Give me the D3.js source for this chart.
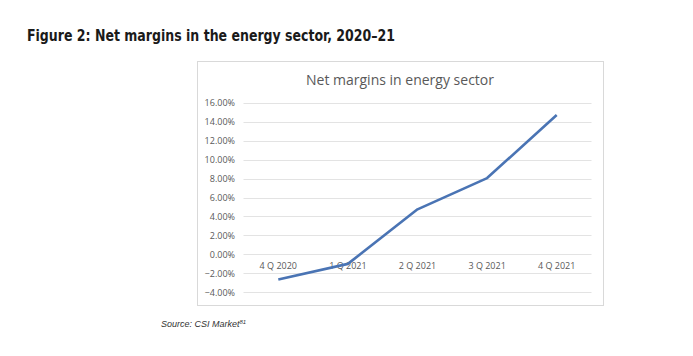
<!DOCTYPE html>
<html><head><meta charset="utf-8">
<script src="https://cdn.jsdelivr.net/npm/d3@7"></script>
<style>body{margin:0;background:#fff}</style>
</head><body>
<svg id="c" width="693" height="356"></svg>
<script>
const categories = ["4 Q 2020","1 Q 2021","2 Q 2021","3 Q 2021","4 Q 2021"];
const netMargin = [-2.65, -1.0, 4.75, 8.05, 14.7];
const yTicks = [-4,-2,0,2,4,6,8,10,12,14,16];
const figTitle = "Figure 2: Net margins in the energy sector, 2020\u201321";
const chartTitle = "Net margins in energy sector";

const svg = d3.select("#c");
svg.append("text").attr("x",27).attr("y",41)
  .attr("font-family","DejaVu Sans Condensed, DejaVu Sans").attr("font-weight","bold")
  .attr("font-size",15).attr("fill","#1a1a1a").attr("textLength",368).attr("lengthAdjust","spacingAndGlyphs")
  .text(figTitle);

svg.append("rect").attr("x",197.5).attr("y",61.5).attr("width",406).attr("height",244)
  .attr("fill","#fff").attr("stroke","#d9d9d9").attr("stroke-width",1);

svg.append("text").attr("x",400).attr("y",85).attr("text-anchor","middle")
  .attr("font-family","Open Sans, Noto Sans, sans-serif").attr("font-size",14).attr("fill","#595959")
  .text(chartTitle);

const x = d3.scaleBand().domain(categories).range([243.5,591.5]);
const y = d3.scaleLinear().domain([-4,16]).range([292.3,102.7]);

const g = svg.append("g");
g.selectAll("line.grid").data(yTicks).join("line")
  .attr("x1",243.5).attr("x2",591.5).attr("y1",d=>Math.round(y(d))+0.5).attr("y2",d=>Math.round(y(d))+0.5)
  .attr("stroke","#e3e3e3").attr("stroke-width",1);

const yAxis = d3.axisLeft(y).tickValues(yTicks).tickSize(0).tickPadding(0).tickFormat(d=>d3.format(".2f")(d)+"%");
const ya = svg.append("g").attr("transform","translate(235,0)").call(yAxis);
ya.select(".domain").remove();
ya.selectAll("text").attr("font-family","Open Sans, Noto Sans, sans-serif").attr("font-size",9).attr("fill","#595959");

const xAxis = d3.axisBottom(x).tickSize(0).tickPadding(0);
const xa = svg.append("g").attr("transform",`translate(0,${y(0)+8})`).call(xAxis);
xa.select(".domain").remove();
xa.selectAll("text").attr("font-family","Open Sans, Noto Sans, sans-serif").attr("font-size",9).attr("fill","#595959");

const line = d3.line().x((d,i)=>x(categories[i])+x.bandwidth()/2).y(d=>y(d));
svg.append("path").datum(netMargin).attr("d",line).attr("fill","none")
  .attr("stroke","#4a74b4").attr("stroke-width",2.6).attr("stroke-linejoin","round");

const src = svg.append("text").attr("x",161).attr("y",327)
  .attr("font-family","Liberation Sans, Arial, sans-serif").attr("font-style","italic")
  .attr("font-size",9).attr("fill","#333");
src.append("tspan").text("Source: CSI Market");
src.append("tspan").attr("font-size",6).attr("dy",-3.5).text("81");
</script>
</body></html>
